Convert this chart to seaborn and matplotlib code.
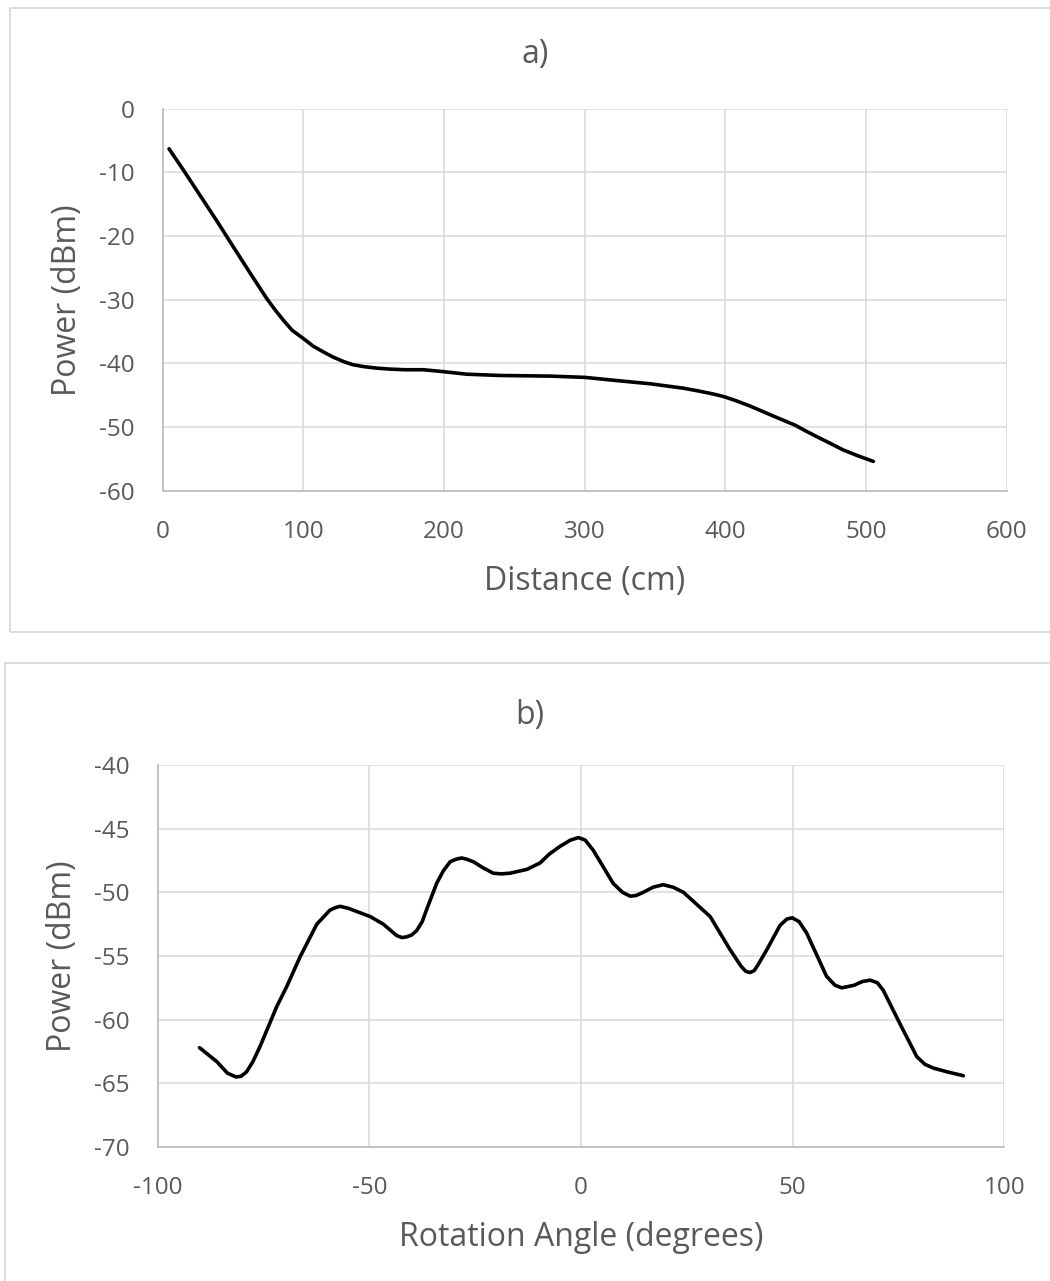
import matplotlib
matplotlib.use("Agg")
import matplotlib.pyplot as plt
import seaborn as sns
import pandas as pd

# ---- data ----
distance_cm = [4.5, 14.6, 26.5, 38.4, 50.2, 62.1, 68.0, 73.9, 79.9, 85.7, 92.0, 100, 107.0,
               114.2, 121.0, 128.4, 135.0, 142.6, 152.0, 161.6, 172.0, 185.3, 199.5, 216.1,
               239.8, 275.3, 300, 322.7, 346.4, 370.1, 380.0, 389, 395.0, 400, 408.0, 417.5,
               427.0, 436.5, 449.5, 457.0, 464.9, 474.0, 483.8, 494.0, 505.2]
power_a_dbm = [-6.3, -9.6, -13.6, -17.6, -21.7, -25.8, -27.8, -29.8, -31.6, -33.2, -34.8, -36.1,
               -37.3, -38.2, -39.0, -39.7, -40.2, -40.5, -40.75, -40.9, -41.0, -41.0, -41.3,
               -41.7, -41.9, -42.0, -42.2, -42.7, -43.2, -43.9, -44.3, -44.7, -45.0, -45.3,
               -45.9, -46.7, -47.6, -48.5, -49.7, -50.6, -51.5, -52.5, -53.6, -54.5, -55.4]

angle_deg = [-90.1, -86.0, -83.5, -81.5, -80.3, -79.0, -77.5, -75.8, -71.9, -69.5, -66.4,
             -62.4, -59.3, -58.0, -56.9, -55.0, -53.0, -49.8, -46.7, -43.5, -42.3, -41.2,
             -40.0, -38.8, -37.5, -36.4, -34.1, -32.5, -30.9, -29.5, -28.2, -27.0, -25.4,
             -23.0, -20.7, -18.8, -16.8, -12.8, -9.7, -7.5, -5.0, -2.5, -0.6, 1.0, 2.9,
             7.6, 9.8, 11.6, 13.0, 14.7, 17.0, 19.4, 21.8, 24.2, 30.5, 35.2, 37.8, 38.9,
             39.9, 40.9, 41.8, 43.9, 47.0, 48.6, 49.9, 51.5, 53.3, 58.0, 60.0, 61.6, 64.5,
             66.5, 68.3, 70.0, 71.4, 75.3, 79.3, 81.2, 83.2, 86.5, 90.3]
power_b_dbm = [-62.2, -63.3, -64.2, -64.5, -64.45, -64.1, -63.3, -62.1, -59.0, -57.4, -55.1,
               -52.5, -51.4, -51.2, -51.1, -51.25, -51.5, -51.9, -52.5, -53.4, -53.55, -53.5,
               -53.35, -53.0, -52.3, -51.3, -49.3, -48.3, -47.6, -47.4, -47.3, -47.4, -47.6,
               -48.1, -48.5, -48.55, -48.5, -48.2, -47.7, -47.0, -46.4, -45.9, -45.7, -45.9, -46.7,
               -49.3, -50.0, -50.3, -50.25, -50.0, -49.6, -49.4, -49.6, -50.0, -51.9, -54.5, -55.8,
               -56.2, -56.3, -56.15, -55.7, -54.5, -52.6, -52.1, -52.0, -52.3, -53.2, -56.6,
               -57.3, -57.5, -57.3, -57.0, -56.9, -57.1, -57.7, -60.3, -62.9, -63.5, -63.8,
               -64.1, -64.4]

xticks_a = [0, 100, 200, 300, 400, 500, 600]
yticks_a = [0, -10, -20, -30, -40, -50, -60]
xticks_b = [-100, -50, 0, 50, 100]
yticks_b = [-40, -45, -50, -55, -60, -65, -70]

df_a = pd.DataFrame({"Distance (cm)": distance_cm, "Power (dBm)": power_a_dbm})
df_b = pd.DataFrame({"Rotation Angle (degrees)": angle_deg, "Power (dBm)": power_b_dbm})

# ---- style ----
sns.set_theme(style="whitegrid")
plt.rcParams["font.family"] = ["Open Sans", "DejaVu Sans"]
TXT = "#595959"
GRID = "#d9d9d9"
AXL = "#bfbfbf"

W, H = 1050, 1281
fig = plt.figure(figsize=(W / 100, H / 100), dpi=100)
fig.patch.set_facecolor("white")

def fx(px):
    return px / W

def fy(py):
    return 1 - py / H

# frames
fig.add_artist(plt.Rectangle((fx(9.5), fy(632.3)), fx(1060 - 9.5), (632.3 - 7.5) / H,
                             transform=fig.transFigure, fill=False, edgecolor=GRID, lw=1.3))
fig.add_artist(plt.Rectangle((fx(5), fy(1290)), fx(1060 - 5), (1290 - 663.3) / H,
                             transform=fig.transFigure, fill=False, edgecolor=GRID, lw=1.3))

ax1 = fig.add_axes([fx(162.7), fy(490.7), fx(1006.7 - 162.7), (490.7 - 108.7) / H])
ax2 = fig.add_axes([fx(157.6), fy(1147), fx(1004.4 - 157.6), (1147 - 765) / H])

line_kw = dict(color="black", linewidth=2.6, sort=False)
sns.lineplot(data=df_a, x="Distance (cm)", y="Power (dBm)", ax=ax1, **line_kw)
sns.lineplot(data=df_b, x="Rotation Angle (degrees)", y="Power (dBm)", ax=ax2, **line_kw)
for ax in (ax1, ax2):
    for ln in ax.get_lines():
        ln.set_solid_joinstyle("round")
        ln.set_solid_capstyle("round")

def style(ax, xt, yt, xlim, ylim, xlabel):
    ax.set_xlim(*xlim)
    ax.set_ylim(*ylim)
    ax.set_xticks(xt)
    ax.set_yticks(yt)
    ax.set_xticklabels([str(v) for v in xt])
    ax.set_yticklabels([str(v) for v in yt])
    ax.grid(True, color=GRID, linewidth=1.1)
    ax.set_axisbelow(True)
    ax.set_facecolor("white")
    for s in ["top", "right"]:
        ax.spines[s].set_visible(False)
    for s in ["left", "bottom"]:
        ax.spines[s].set_visible(True)
        ax.spines[s].set_color(AXL)
        ax.spines[s].set_linewidth(1.3)
    ax.tick_params(axis="both", length=0, labelsize=17.5, labelcolor=TXT)
    ax.tick_params(axis="x", pad=21)
    ax.tick_params(axis="y", pad=20)
    ax.set_xlabel(xlabel, fontsize=23, color=TXT, labelpad=15)
    ax.set_ylabel("Power (dBm)", fontsize=23, color=TXT, labelpad=11)

style(ax1, xticks_a, yticks_a, (0, 600), (-60, 0), "Distance (cm)")
style(ax2, xticks_b, yticks_b, (-100, 100), (-70, -40), "Rotation Angle (degrees)")

fig.text(fx(535), fy(55), "a)", ha="center", va="center", fontsize=23, color=TXT)
fig.text(fx(530), fy(716), "b)", ha="center", va="center", fontsize=23, color=TXT)

fig.savefig("out.png", dpi=100, facecolor="white")
